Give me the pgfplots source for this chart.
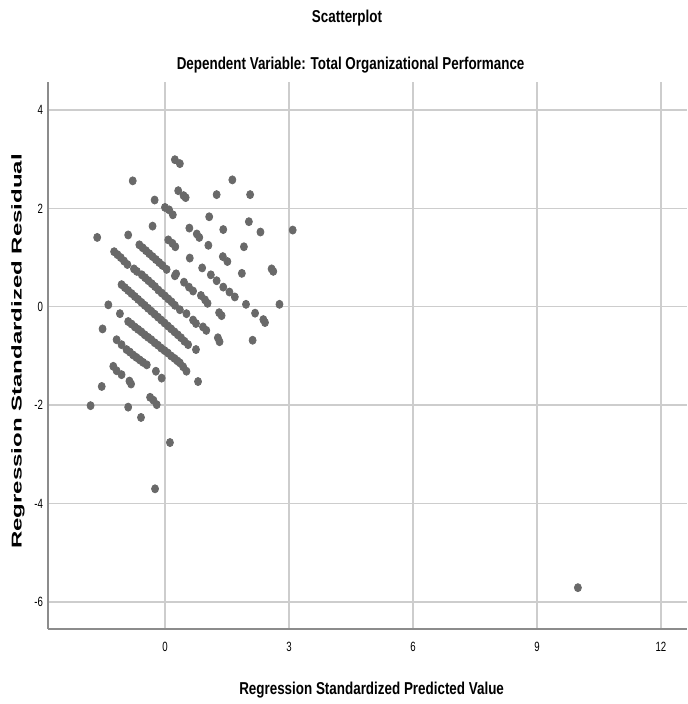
\documentclass[border=0pt]{standalone}
\usepackage{fontspec}
\setmainfont{Liberation Sans}
\newfontfamily\cond[FakeStretch=0.78]{Liberation Sans}
\newfontfamily\tickf[FakeStretch=0.72]{Liberation Sans}
\usepackage{pgfplots}
\pgfplotsset{compat=1.18}
\definecolor{dotgray}{RGB}{105,105,105}
\definecolor{gridgray}{RGB}{205,205,205}
\definecolor{axgray}{RGB}{140,140,140}

\begin{document}
\begin{tikzpicture}
\useasboundingbox (0,0) rectangle (343.5pt,352pt);
\begin{axis}[
    at={(24pt,37.5pt)}, anchor=south west,
    scale only axis, width=319.5pt, height=273.5pt,
    xmin=-2.83, xmax=12.63, ymin=-6.55, ymax=4.57,
    xtick={0,3,6,9,12}, ytick={-6,-4,-2,0,2,4},
    axis x line*=bottom, axis y line*=left,
    axis line style={axgray, line width=0.8pt},
    grid=major, grid style={gridgray, line width=0.7pt},
    major tick length=0pt,
    /pgf/number format/assume math mode=true,
    tick label style={font=\tickf\fontsize{6.7}{7}\selectfont, text=black},
    xticklabel style={yshift=-3pt},
    yticklabel style={xshift=1pt},
    clip=false,
]
\addplot[only marks, mark=*, mark size=1.75pt, dotgray,
    mark options={draw=dotgray, fill=dotgray, yscale=1.15}] coordinates {
% upper scattered points
(0.24,2.99) (0.36,2.91) (-0.78,2.56) (1.63,2.58) (0.32,2.36) (0.45,2.26)
(0.50,2.22) (1.25,2.28) (2.06,2.28) (-0.25,2.17) (0.00,2.02) (0.10,1.97)
(0.19,1.87) (1.07,1.83) (2.03,1.73) (-0.30,1.64) (0.59,1.60) (1.41,1.57)
(2.31,1.52) (3.09,1.56) (-1.64,1.41) (-0.89,1.46) (0.77,1.48) (0.83,1.41)
(0.08,1.36) (0.18,1.29) (0.25,1.22) (1.05,1.25) (1.91,1.22) (0.60,0.99)
(1.40,1.02) (1.51,0.92) (0.90,0.79) (1.86,0.68) (2.58,0.77) (2.62,0.72)
(1.11,0.65) (1.25,0.53) (1.41,0.40) (1.56,0.30) (1.69,0.20) (1.96,0.05)
(2.77,0.05) (2.18,-0.13) (2.38,-0.26) (2.42,-0.32) (2.12,-0.68) (0.75,-0.87)
% line A
(-0.62,1.26) (-0.54,1.20) (-0.46,1.14) (-0.38,1.08) (-0.30,1.02) (-0.22,0.96)
(-0.14,0.90) (-0.06,0.84) (0.04,0.76) (0.24,0.63) (0.27,0.67) (0.46,0.50)
(0.58,0.40) (0.68,0.32) (0.87,0.23) (0.97,0.14) (1.03,0.07) (1.31,-0.12)
(1.37,-0.18)
% line B / D
(-1.23,1.12) (-1.15,1.06) (-1.07,1.00) (-0.99,0.93) (-0.91,0.86) (-0.75,0.77)
(-0.68,0.72) (-0.56,0.65) (-0.48,0.59) (-0.40,0.53) (-0.32,0.47) (-0.24,0.41)
(-0.16,0.34) (-0.08,0.28) (0.00,0.22) (0.08,0.16) (0.16,0.10) (0.24,0.03)
(0.36,-0.06) (0.52,-0.14) (0.68,-0.27) (0.75,-0.34) (0.92,-0.41) (1.00,-0.48)
(1.28,-0.63) (1.32,-0.71)
% line C
(-1.05,0.45) (-0.97,0.39) (-0.89,0.33) (-0.81,0.27) (-0.73,0.21) (-0.65,0.15)
(-0.57,0.09) (-0.49,0.03) (-0.41,-0.03) (-0.33,-0.09) (-0.25,-0.15) (-0.17,-0.21)
(-0.09,-0.27) (-0.01,-0.33) (0.07,-0.39) (0.15,-0.45) (0.23,-0.51) (0.31,-0.57)
(0.39,-0.63) (0.47,-0.70) (0.56,-0.77)
% line F
(-0.89,-0.30) (-0.81,-0.35) (-0.73,-0.41) (-0.65,-0.46) (-0.57,-0.51) (-0.49,-0.57)
(-0.41,-0.62) (-0.33,-0.67) (-0.25,-0.73) (-0.17,-0.78) (-0.09,-0.84) (-0.01,-0.89)
(0.07,-0.94) (0.15,-1.00) (0.23,-1.05) (0.30,-1.10) (0.36,-1.14) (0.44,-1.22)
(0.52,-1.31) (0.80,-1.52)
% line G and lower
(-1.17,-0.67) (-1.05,-0.77) (-0.93,-0.87) (-0.85,-0.92) (-0.77,-0.98) (-0.69,-1.03)
(-0.61,-1.08) (-0.53,-1.13) (-0.44,-1.18) (-0.22,-1.31) (-0.08,-1.45)
(-1.25,-1.21) (-1.17,-1.30) (-1.05,-1.38) (-0.86,-1.51) (-0.82,-1.57)
% left and low outliers
(-1.51,-0.45) (-1.09,-0.14) (-1.37,0.04) (-1.53,-1.62) (-1.80,-2.01)
(-0.89,-2.04) (-0.58,-2.25) (-0.36,-1.84) (-0.28,-1.90) (-0.20,-1.99)
(0.12,-2.76) (-0.24,-3.70) (9.99,-5.71)
};
\end{axis}
\node[font=\cond\bfseries\fontsize{8.6}{10}\selectfont] at (173.5pt,343pt) {Scatterplot};
\node[font=\cond\bfseries\fontsize{8.6}{10}\selectfont] at (175.3pt,319.5pt) {Dependent Variable: Total Organizational Performance};
\node[font=\cond\bfseries\fontsize{8.6}{10}\selectfont] at (185.8pt,7pt) {Regression Standardized Predicted Value};
\node[font=\bfseries\fontsize{7.5}{9}\selectfont, rotate=90] at (9pt,176.3pt) {\scalebox{1.6}[0.95]{Regression Standardized Residual}};
\end{tikzpicture}
\end{document}
